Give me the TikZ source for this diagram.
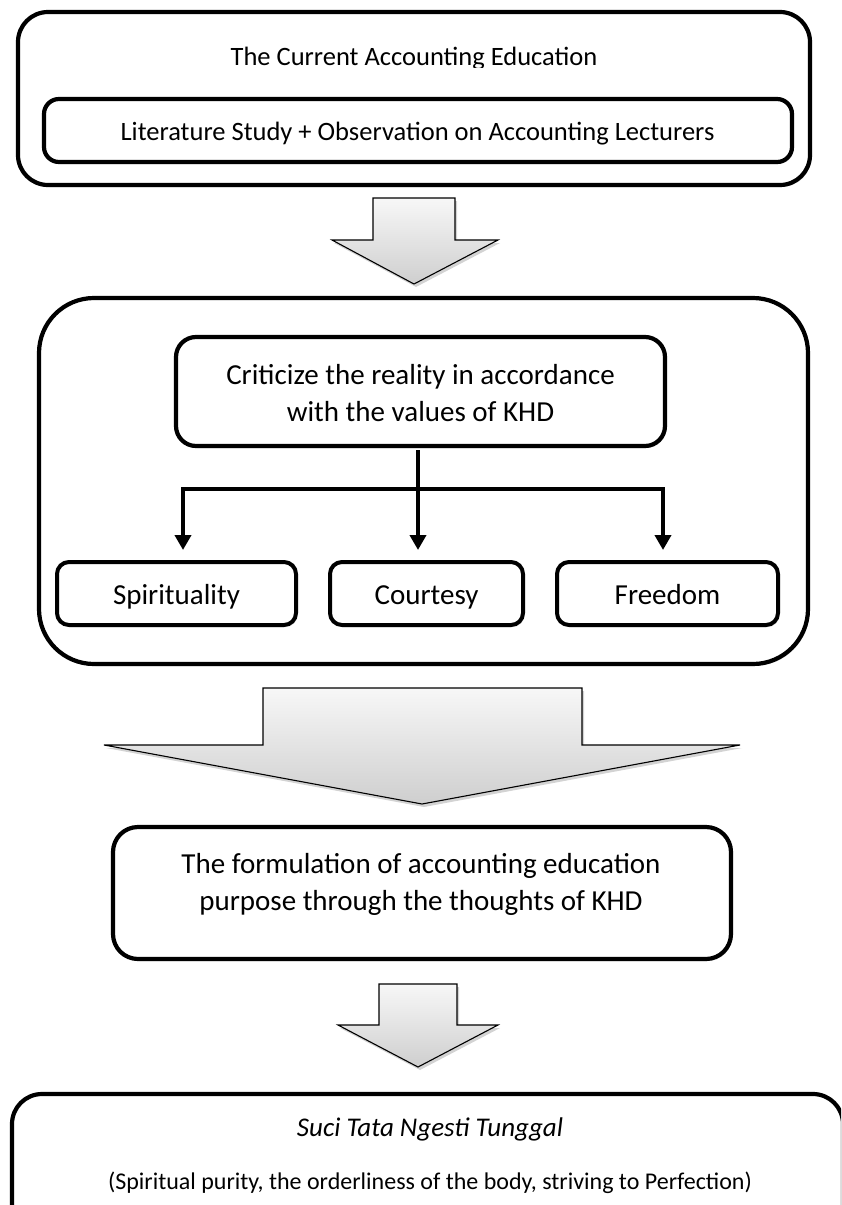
\documentclass[tikz,border=0pt]{standalone}
\usepackage{fontspec}
\setmainfont{Carlito}
\usetikzlibrary{arrows.meta,shadows}
\begin{document}
\begin{tikzpicture}[x=1pt,y=-1pt,
  box/.style={draw=black, line width=4.2pt, fill=white, rectangle, inner sep=0pt, outer sep=0pt,
    drop shadow={opacity=0.3, shadow xshift=1.5pt, shadow yshift=-2pt}},
  smallbox/.style={box, line width=4pt, rounded corners=12pt, minimum width=#1, minimum height=63pt},
  txtA/.style={inner sep=0pt, anchor=base, font=\fontsize{26.5}{32}\selectfont},
  txtB/.style={inner sep=0pt, anchor=base, font=\fontsize{29}{36}\selectfont},
  txtC/.style={inner sep=0pt, anchor=base, font=\fontsize{24}{29}\selectfont},
  txtI/.style={inner sep=0pt, anchor=base, font=\fontsize{27}{32}\selectfont\itshape},
  conn/.style={line width=4pt, line join=miter, -{Triangle[width=16pt,length=15pt]}},
  blockarrow/.style={draw=black, line width=1.1pt, line join=miter, top color=gray!6, bottom color=gray!38,
    drop shadow={opacity=0.35, shadow xshift=2pt, shadow yshift=-3pt}}
]
\useasboundingbox (0,0) rectangle (841,1205);
\clip (0,0) rectangle (841,1205);

% ---- top block
\node[box, rounded corners=30pt, minimum width=792pt, minimum height=173pt] (topbox) at (414,98.5) {};
\node[box, rounded corners=15pt, minimum width=748pt, minimum height=63pt] (study) at (418,130.5) {};
\begin{scope}
  \clip (20,14) rectangle (808,67);
  \node[txtA] (title) at (414,65) {The Current Accounting Education};
\end{scope}
\node[txtA] (studytext) at (417.5,140) {Literature Study + Observation on Accounting Lecturers};

% ---- arrow 1
\path[blockarrow] (373,198) -- (455,198) -- (455,240) -- (498,240) -- (414,284) -- (332,240) -- (373,240) -- cycle;

% ---- middle block
\node[box, rounded corners=55pt, minimum width=769pt, minimum height=366pt] (midbox) at (423.5,481) {};
\node[box, rounded corners=20pt, minimum width=489pt, minimum height=109pt] (crit) at (420.5,391.5) {};
\node[txtB] (crit1) at (420.5,384) {Criticize the reality in accordance};
\node[txtB] (crit2) at (420.5,421) {with the values of KHD};

\node[smallbox=239pt] (spirit) at (176.5,593.5) {};
\node[smallbox=193pt] (court) at (426.5,593.5) {};
\node[smallbox=221pt] (free) at (667.5,593.5) {};
\node[txtB] (spirittext) at (176.5,604) {Spirituality};
\node[txtB] (courttext) at (426.5,604) {Courtesy};
\node[txtB] (freetext) at (667.5,604) {Freedom};

\coordinate (stem) at (418,489);
\coordinate (barL) at (183,489);
\coordinate (barR) at (663,489);
\draw[conn, shorten <=4pt, shorten >=12pt] (stem |- crit.south) -- (stem |- court.north);
\draw[conn, shorten >=12pt] (stem) -- (barL) -- (barL |- spirit.north);
\draw[conn, shorten >=12pt] (stem) -- (barR) -- (barR |- free.north);

% ---- big arrow
\path[blockarrow] (263,688) -- (582,688) -- (582,745) -- (740,745) -- (422,804) -- (104,745) -- (263,745) -- cycle;

% ---- formulation block
\node[box, rounded corners=25pt, minimum width=618pt, minimum height=132pt] (form) at (422,893) {};
\node[txtB] (form1) at (421,873) {The formulation of accounting education};
\node[txtB] (form2) at (421,910) {purpose through the thoughts of KHD};

% ---- arrow 3
\path[blockarrow] (379,984) -- (457,984) -- (457,1025) -- (498,1025) -- (418,1067) -- (338,1025) -- (379,1025) -- cycle;

% ---- bottom block
\node[box, rounded corners=30pt, minimum width=831pt, minimum height=166pt] (result) at (427.5,1177) {};
\node[txtI] (suci) at (430,1136) {Suci Tata Ngesti Tunggal};
\node[txtC] (meaning) at (430,1189) {(Spiritual purity, the orderliness of the body, striving to Perfection)};
\end{tikzpicture}
\end{document}
